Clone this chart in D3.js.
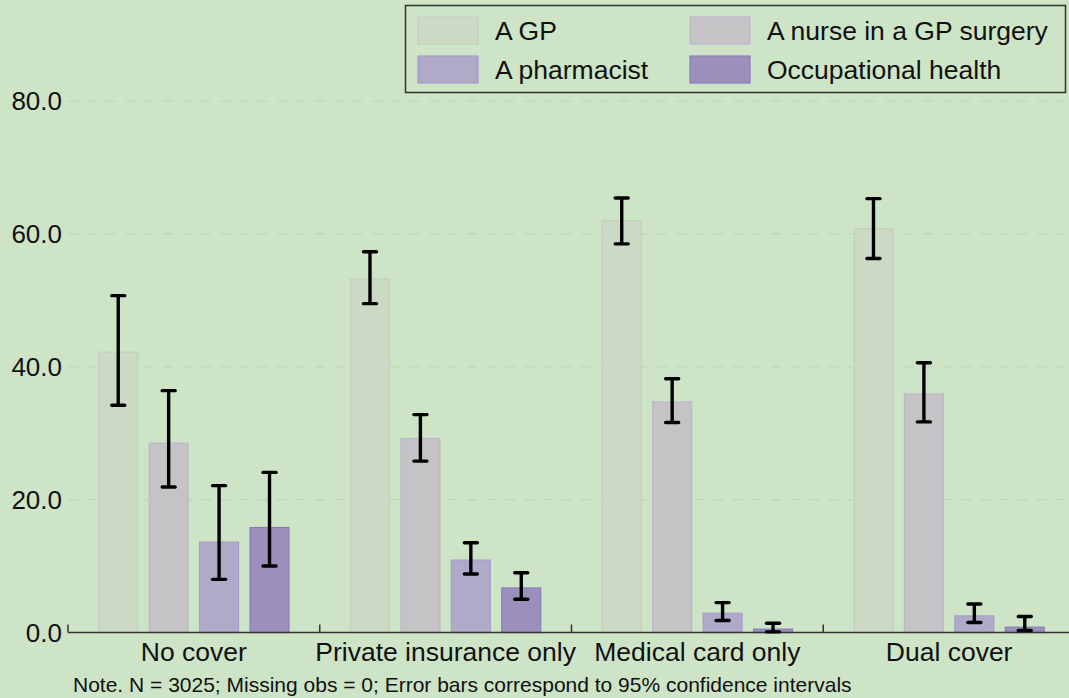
<!DOCTYPE html>
<html><head><meta charset="utf-8">
<script src="https://cdn.jsdelivr.net/npm/d3@7"></script>
<style>
html,body{margin:0;padding:0;background:#cde4c6;}
svg{display:block;font-family:"Liberation Sans",Arial,sans-serif;}
</style></head>
<body>
<svg id="chart" width="1069" height="698"></svg>
<script>
const categories = ["No cover", "Private insurance only", "Medical card only", "Dual cover"];
const seriesNames = ["A GP", "A nurse in a GP surgery", "A pharmacist", "Occupational health"];
const gpValues = [42.2, 53.2, 62.0, 60.8];
const gpLow = [34.2, 49.5, 58.5, 56.3];
const gpHigh = [50.7, 57.3, 65.4, 65.3];
const nurseValues = [28.5, 29.2, 34.7, 35.9];
const nurseLow = [21.9, 25.8, 31.6, 31.7];
const nurseHigh = [36.4, 32.8, 38.2, 40.6];
const pharmValues = [13.6, 10.9, 2.9, 2.5];
const pharmLow = [8.0, 8.8, 1.8, 1.5];
const pharmHigh = [22.1, 13.5, 4.5, 4.3];
const occValues = [15.8, 6.7, 0.5, 0.8];
const occLow = [10.0, 5.0, 0.1, 0.3];
const occHigh = [24.1, 9.0, 1.4, 2.4];
const yTicks = [0, 20, 40, 60, 80];
const noteText = "Note. N = 3025; Missing obs = 0; Error bars correspond to 95% confidence intervals";

const fills = ["#ccd9c4", "#c6c3c6", "#b0a9c8", "#9b8fbb"];
const strokes = ["#c4d0bd", "#bdb7cc", "#a69dcd", "#8b7dbd"];

const seriesData = [
  {vals: gpValues, lo: gpLow, hi: gpHigh},
  {vals: nurseValues, lo: nurseLow, hi: nurseHigh},
  {vals: pharmValues, lo: pharmLow, hi: pharmHigh},
  {vals: occValues, lo: occLow, hi: occHigh}
];

const svg = d3.select("#chart");
svg.append("rect").attr("width",1069).attr("height",698).attr("fill","#cde4c6");

const x0 = d3.scaleBand().domain(categories).range([68, 1075]).padding(0);
const x1 = d3.scaleBand().domain(seriesNames).range([0, x0.bandwidth()]).paddingInner(0.208).paddingOuter(0.6);
const y = d3.scaleLinear().domain([0, 80]).range([632.5, 101]);

// gridlines
svg.append("g").selectAll("line").data(yTicks.filter(d=>d>0)).join("line")
  .attr("x1", 68).attr("x2", 1069)
  .attr("y1", d=>y(d)).attr("y2", d=>y(d))
  .attr("stroke", "#bcd4b4").attr("stroke-width", 1).attr("stroke-dasharray", "10,9");

// y tick labels
svg.append("g").selectAll("text").data(yTicks).join("text")
  .attr("x", 62).attr("y", d=>y(d)).attr("dy", "0.36em")
  .attr("text-anchor","end").attr("font-size", 26).attr("fill","#111")
  .text(d=>d3.format(".1f")(d));

// bars
const flat = [];
categories.forEach((c,ci)=>{
  seriesNames.forEach((s,si)=>{
    flat.push({c, s, si, v: seriesData[si].vals[ci], lo: seriesData[si].lo[ci], hi: seriesData[si].hi[ci]});
  });
});
svg.append("g").selectAll("rect").data(flat).join("rect")
  .attr("x", d=>x0(d.c)+x1(d.s)+0.5)
  .attr("y", d=>y(d.v))
  .attr("width", x1.bandwidth()-1)
  .attr("height", d=>y(0)-y(d.v))
  .attr("fill", d=>fills[d.si]).attr("stroke", d=>strokes[d.si]).attr("stroke-width",1.2);

// x axis line and ticks
svg.append("line").attr("x1",68).attr("x2",1069).attr("y1",y(0)).attr("y2",y(0))
  .attr("stroke","#333").attr("stroke-width",1.5);
const bounds = categories.map(c=>x0(c));
svg.append("g").selectAll("line").data(bounds).join("line")
  .attr("x1",d=>d).attr("x2",d=>d).attr("y1",y(0)).attr("y2",y(0)-8)
  .attr("stroke","#333").attr("stroke-width",1.5);

// error bars
const eb = svg.append("g").attr("stroke","#000").attr("stroke-width",3.4).attr("fill","none");
flat.forEach(d=>{
  const cx = x0(d.c)+x1(d.s)+x1.bandwidth()/2;
  eb.append("line").attr("x1",cx).attr("x2",cx).attr("y1",y(d.hi)).attr("y2",y(d.lo));
  eb.append("line").attr("x1",cx-6.5).attr("x2",cx+6.5).attr("y1",y(d.hi)).attr("y2",y(d.hi)).attr("stroke-linecap","round");
  eb.append("line").attr("x1",cx-6.5).attr("x2",cx+6.5).attr("y1",y(d.lo)).attr("y2",y(d.lo)).attr("stroke-linecap","round");
});

// category labels
svg.append("g").selectAll("text").data(categories).join("text")
  .attr("x", d=>x0(d)+x1.step()*0.6 + (x1.step()*3+x1.bandwidth())/2)
  .attr("y", 661).attr("text-anchor","middle").attr("font-size",26.5).attr("fill","#111")
  .text(d=>d);

// note
svg.append("text").attr("x",73).attr("y",692).attr("font-size",21).attr("fill","#111").text(noteText);

// legend
const lg = svg.append("g");
lg.append("rect").attr("x",405.5).attr("y",5.5).attr("width",660).attr("height",87)
  .attr("fill","#cde4c6").attr("stroke","#333").attr("stroke-width",1.5);
const lx = [418, 690], ly = [17, 56];
seriesNames.forEach((s,i)=>{
  const col = i%2, row = Math.floor(i/2);
  lg.append("rect").attr("x",lx[col]).attr("y",ly[row]).attr("width",60).attr("height",27)
    .attr("fill",fills[i]).attr("stroke",strokes[i]).attr("stroke-width",1.2);
  lg.append("text").attr("x",lx[col]+77).attr("y",ly[row]+13.5).attr("dy","0.36em")
    .attr("font-size",26.5).attr("fill","#111").text(s);
});
</script>
</body></html>
